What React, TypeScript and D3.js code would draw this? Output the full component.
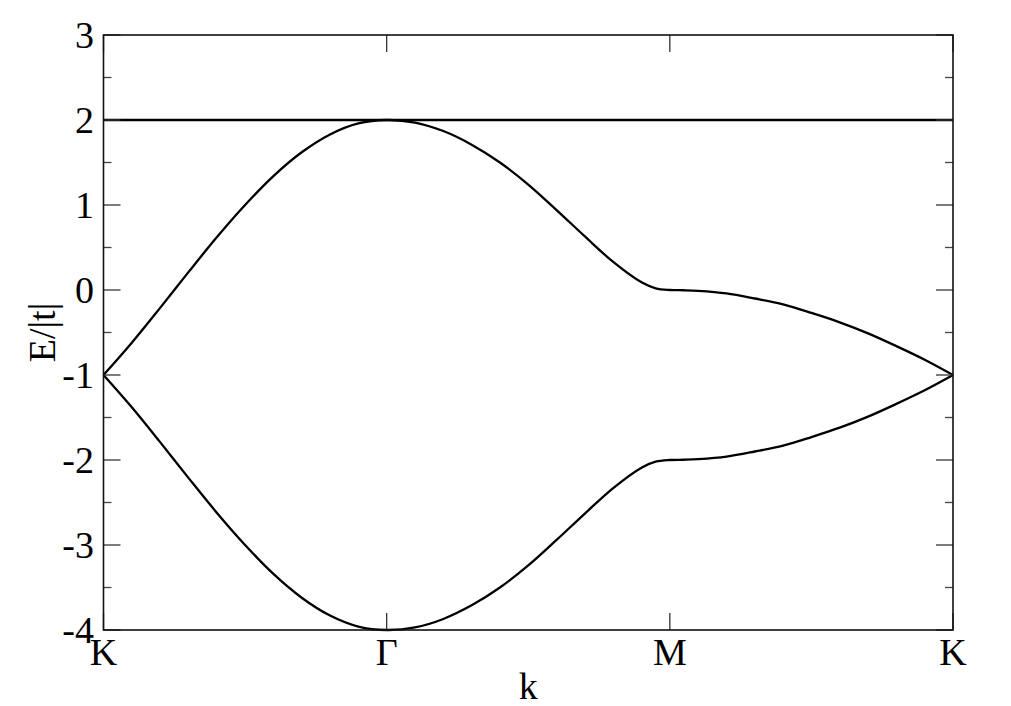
import React from "react";
import * as d3 from "d3";

// path coordinate: 0 = K, 1 = Γ, 2 = M, 3 = K
const kPath = [
  0.0, 0.1, 0.2, 0.3, 0.4, 0.5, 0.6, 0.7, 0.8, 0.9, 1.0,
  1.1, 1.2, 1.3, 1.4, 1.5, 1.6, 1.7, 1.8, 1.9, 1.95, 2.0,
  2.05, 2.1, 2.2, 2.3, 2.4, 2.5, 2.6, 2.7, 2.8, 2.9, 3.0,
];
const upperBand = [
  -1.0, -0.62, -0.21, 0.21, 0.62, 1.0, 1.34, 1.62, 1.83, 1.96, 2.0,
  1.97, 1.87, 1.71, 1.5, 1.24, 0.94, 0.63, 0.33, 0.09, 0.02, 0.0,
  -0.003, -0.01, -0.04, -0.1, -0.17, -0.27, -0.38, -0.51, -0.66, -0.82, -1.0,
];
const lowerBand = [
  -1.0, -1.38, -1.79, -2.21, -2.62, -3.0, -3.34, -3.62, -3.83, -3.96, -4.0,
  -3.97, -3.87, -3.71, -3.5, -3.24, -2.94, -2.63, -2.33, -2.09, -2.02, -2.0,
  -1.997, -1.99, -1.96, -1.9, -1.83, -1.73, -1.62, -1.49, -1.34, -1.18, -1.0,
];
const flatK = [0, 3];
const flatBand = [2, 2];

const xTickPos = [0, 1, 2, 3];
const xTickLabels = ["K", "Γ", "M", "K"];
const yMajor = [-4, -3, -2, -1, 0, 1, 2, 3];
const yMinor = [-3.5, -2.5, -1.5, -0.5, 0.5, 1.5, 2.5];

const W = 1011;
const H = 706;
const L = 103.5, R = 953, T = 35, B = 630;
const FONT = '"Liberation Serif", "Times New Roman", Times, "DejaVu Serif", serif';

export default function App() {
  const x = d3.scaleLinear().domain([0, 3]).range([L, R]);
  const y = d3.scaleLinear().domain([-4, 3]).range([B, T]);

  const line = d3
    .line<[number, number]>()
    .x((d) => x(d[0]))
    .y((d) => y(d[1]))
    .curve(d3.curveCatmullRom.alpha(0.5));

  const up = line(kPath.map((k, i) => [k, upperBand[i]] as [number, number])) || "";
  const lo = line(kPath.map((k, i) => [k, lowerBand[i]] as [number, number])) || "";
  const fl =
    d3
      .line<[number, number]>()
      .x((d) => x(d[0]))
      .y((d) => y(d[1]))(flatK.map((k, i) => [k, flatBand[i]] as [number, number])) || "";

  const majLen = 17;
  const minLen = 8;
  const textStyle = { fontFamily: FONT, fontSize: "38px" };

  return (
    <svg
      width={W}
      height={H}
      style={{ position: "absolute", left: 0, top: 0, background: "#fff" }}
    >
      <rect x={0} y={0} width={W} height={H} fill="#fff" />
      {/* curves */}
      <path d={up} fill="none" stroke="#000" strokeWidth={2.3} />
      <path d={lo} fill="none" stroke="#000" strokeWidth={2.3} />
      <path d={fl} fill="none" stroke="#000" strokeWidth={2.5} />

      {/* y ticks */}
      {yMajor.map((v) => (
        <g key={"ym" + v}>
          <line x1={L} x2={L + majLen} y1={y(v)} y2={y(v)} stroke="#333" strokeWidth={1.3} />
          <line x1={R} x2={R - majLen} y1={y(v)} y2={y(v)} stroke="#333" strokeWidth={1.3} />
          <text x={94} y={y(v)} dy="0.34em" textAnchor="end" style={textStyle} fill="#000">
            {v}
          </text>
        </g>
      ))}
      {yMinor.map((v) => (
        <g key={"yn" + v}>
          <line x1={L} x2={L + minLen} y1={y(v)} y2={y(v)} stroke="#444" strokeWidth={1.3} />
          <line x1={R} x2={R - minLen} y1={y(v)} y2={y(v)} stroke="#444" strokeWidth={1.3} />
        </g>
      ))}

      {/* x ticks */}
      {xTickPos.map((v, i) => (
        <g key={"x" + i}>
          <line x1={x(v)} x2={x(v)} y1={B} y2={B - majLen} stroke="#333" strokeWidth={1.3} />
          <line x1={x(v)} x2={x(v)} y1={T} y2={T + majLen} stroke="#333" strokeWidth={1.3} />
          <text x={x(v)} y={665} textAnchor="middle" style={textStyle} fill="#000">
            {xTickLabels[i]}
          </text>
        </g>
      ))}

      {/* frame */}
      <rect x={L} y={T} width={R - L} height={B - T} fill="none" stroke="#111" strokeWidth={1.6} />

      {/* axis titles */}
      <text x={(L + R) / 2} y={699} textAnchor="middle" style={textStyle} fill="#000">
        k
      </text>
      <text
        transform={`translate(55, ${(T + B) / 2}) rotate(-90)`}
        textAnchor="middle"
        style={textStyle}
        fill="#000"
      >
        E/|t|
      </text>
    </svg>
  );
}
